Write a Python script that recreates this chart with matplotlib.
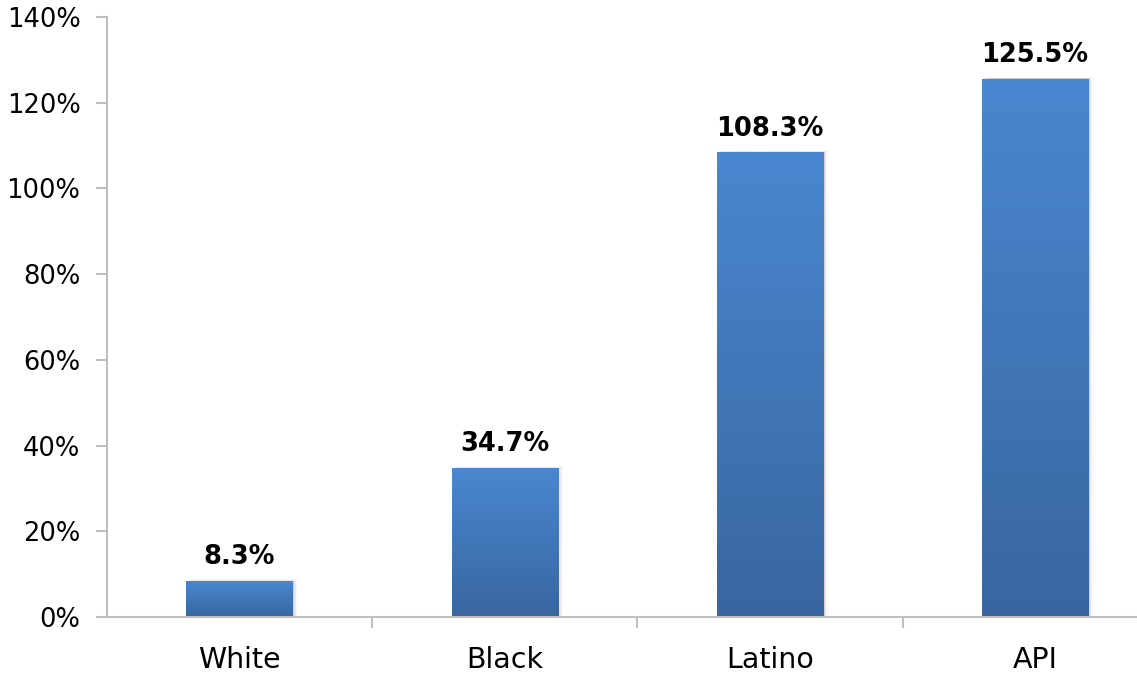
import numpy as np
import matplotlib.pyplot as plt
from matplotlib.colors import LinearSegmentedColormap
from matplotlib.patches import Rectangle

# Data
groups = ["White", "Black", "Latino", "API"]
growth = [8.3, 34.7, 108.3, 125.5]
y_ticks = [0, 20, 40, 60, 80, 100, 120, 140]

plt.rcParams['font.family'] = ['DejaVu Sans']

fig = plt.figure(figsize=(11.37, 6.75), dpi=100)
ax = fig.add_axes([0.094, 0.086, 0.906, 0.889])

bar_width = 0.4
x = np.arange(len(groups))

# bar fill goes from darker blue at the base to lighter blue at the top
bar_cmap = LinearSegmentedColormap.from_list("bar_grad", ["#3866a0", "#4a87d0"])
grad = np.linspace(0, 1, 256).reshape(-1, 1)

for xi, val in zip(x, growth):
    left = xi - bar_width / 2
    # soft drop shadow
    for k, a in enumerate([0.10, 0.06, 0.03]):
        off = 0.006 * (k + 1)
        ax.add_patch(Rectangle((left + off, 0), bar_width, val + 0.15 * (k + 1),
                               facecolor="black", alpha=a, edgecolor="none", zorder=1))
    ax.imshow(grad, cmap=bar_cmap, aspect="auto", origin="lower",
              extent=(left, left + bar_width, 0, val), zorder=2)
    ax.annotate(f"{val:.1f}%", (xi, val), xytext=(0, 8), textcoords="offset points",
                ha="center", va="bottom", fontsize=18.5, fontweight="bold", color="black")

ax.set_xlim(-0.5, 3.384)
ax.set_ylim(0, 140)

ax.set_yticks(y_ticks)
ax.set_yticklabels([f"{t}%" for t in y_ticks])

# category labels sit at bar centres, tick marks sit between categories
ax.set_xticks([0.5, 1.5, 2.5])
ax.set_xticklabels([])
ax.set_xticks(x, minor=True)
ax.set_xticklabels(groups, minor=True)
ax.tick_params(axis="x", which="minor", length=0, pad=21, labelsize=20.5)
ax.tick_params(axis="x", which="major", length=8, width=1.5, color="#bfbfbf", direction="out")
ax.tick_params(axis="y", length=8, width=1.5, color="#bfbfbf", labelsize=18.5, pad=11)

for side in ["top", "right"]:
    ax.spines[side].set_visible(False)
for side in ["left", "bottom"]:
    ax.spines[side].set_color("#bfbfbf")
    ax.spines[side].set_linewidth(1.5)

fig.savefig("out.png", dpi=100)
